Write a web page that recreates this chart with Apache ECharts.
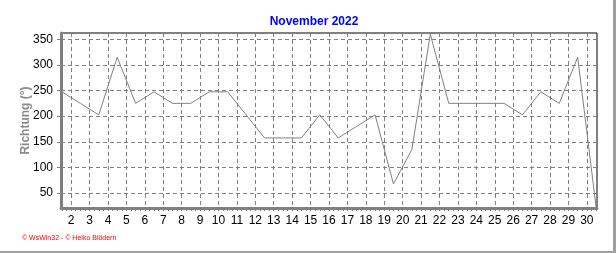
<!DOCTYPE html>
<html>
<head>
<meta charset="utf-8">
<script src="https://cdn.jsdelivr.net/npm/echarts@6/dist/echarts.min.js"></script>
<style>
html,body{margin:0;padding:0;background:#fff;}
#chart{width:616px;height:253px;}
</style>
</head>
<body>
<div id="chart"></div>
<script>
// Data: wind direction per day (points plotted at mid-day)
const days = [1,2,3,4,5,6,7,8,9,10,11,12,13,14,15,16,17,18,19,20,21,22,23,24,25,26,27,28,29,30];
const direction = [247.5,225,202.5,315,225,247.5,225,225,247.5,247.5,202.5,157.5,157.5,157.5,202.5,157.5,180,202.5,67.5,135,360,225,225,225,225,202.5,247.5,225,315,22.5];
const xTickLabels = [2,3,4,5,6,7,8,9,10,11,12,13,14,15,16,17,18,19,20,21,22,23,24,25,26,27,28,29,30];
const yTickLabels = [50,100,150,200,250,300,350];
const titleText = 'November 2022';
const yAxisName = 'Richtung (°)';
const footerText = '© WsWin32 - © Heiko Blödern';

const seriesData = days.map((d, i) => [d + 0.5, direction[i]]);
const quarterTicks = [];
for (let d = 1; d <= 30; d++) { quarterTicks.push(d + 0.5, d + 0.75); if (d < 30) quarterTicks.push(d + 1, d + 1.25); }

const fontFam = 'Liberation Sans, Arial, sans-serif';
const chart = echarts.init(document.getElementById('chart'), null, {renderer: 'canvas'});
chart.setOption({
  animation: false,
  backgroundColor: '#ffffff',
  title: {
    text: titleText,
    left: 309, top: 11, textAlign: 'center',
    textStyle: {color: '#0000ff', fontSize: 12, fontWeight: 'bold', fontFamily: fontFam}
  },
  grid: {
    left: 61, right: 19, top: 33, bottom: 45,
    show: true, borderColor: '#000000', borderWidth: 1, backgroundColor: '#ffffff'
  },
  xAxis: [{
    type: 'value', min: 1.45, max: 30.55, position: 'bottom',
    axisLine: {show: true, onZero: false, lineStyle: {color: '#808080', width: 3}},
    axisTick: {show: true, customValues: xTickLabels, length: 3, lineStyle: {color: '#808080', width: 1}},
    axisLabel: {customValues: xTickLabels, color: '#000', fontSize: 12, margin: 7, fontFamily: fontFam},
    splitLine: {show: true, customValues: xTickLabels, lineStyle: {color: '#808080', type: [4, 3], width: 1}}
  }, {
    type: 'value', min: 1.45, max: 30.55, position: 'bottom', offset: 0,
    axisLine: {show: false, onZero: false},
    axisTick: {show: true, customValues: quarterTicks, length: 3, lineStyle: {color: '#808080', width: 1}},
    axisLabel: {show: false},
    splitLine: {show: false}
  }],
  yAxis: {
    type: 'value', min: 20.7, max: 362.3,
    name: yAxisName, nameLocation: 'middle', nameGap: 29, nameRotate: 90, nameMoveOverlap: false,
    nameTextStyle: {color: '#8c8c8c', fontSize: 12, fontWeight: 'bold', fontFamily: fontFam},
    axisLine: {show: true, onZero: false, lineStyle: {color: '#808080', width: 3}},
    axisTick: {show: true, customValues: yTickLabels, length: 4, lineStyle: {color: '#808080', width: 1}},
    axisLabel: {customValues: yTickLabels, color: '#000', fontSize: 12, margin: 8, fontFamily: fontFam},
    splitLine: {show: true, customValues: yTickLabels, lineStyle: {color: '#808080', type: [4, 3], width: 1}}
  },
  series: [{
    type: 'line', data: seriesData, showSymbol: false, symbol: 'none', xAxisIndex: 0,
    lineStyle: {color: '#808080', width: 1}, clip: true
  }],
  graphic: [
    {type: 'text', left: 22, top: 235, style: {text: footerText, fill: '#ff0000', font: '7px ' + fontFam}},
    {type: 'rect', shape: {x: 613, y: 0, width: 3, height: 253}, style: {fill: '#a0a0a0'}},
    {type: 'rect', shape: {x: 0, y: 251, width: 616, height: 2}, style: {fill: '#a0a0a0'}}
  ]
});
</script>
</body>
</html>
